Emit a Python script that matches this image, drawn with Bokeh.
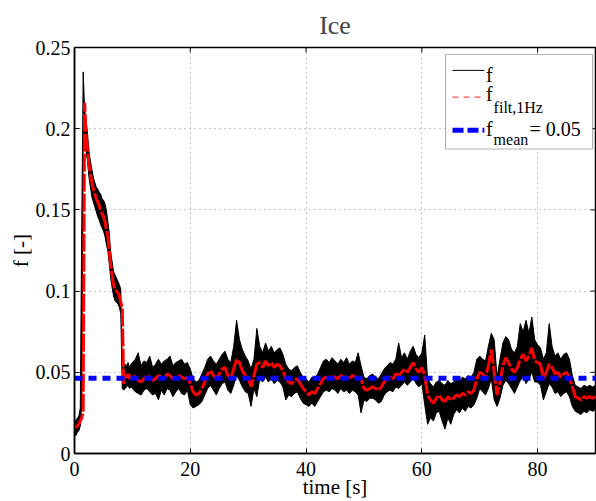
import numpy as np
from bokeh.plotting import figure
from bokeh.models import Range1d, FixedTicker, BoxAnnotation, Arrow, Label
from bokeh.embed import file_html
from bokeh.resources import INLINE

# ---------------- data ----------------
# time samples [s]: 0.25 s steps until 10 s, then 0.5 s steps until 90 s
t_early = np.arange(0, 10, 0.25)
t_late = np.arange(10, 90.001, 0.5)

# filtered signal f_filt,1Hz
filt_early = [.017, .016, .017, .018, .020, .022, .025, .216, .196, .188,
              .178, .172, .167, .163, .160, .157, .155, .153, .150, .148,
              .146, .143, .138, .134, .126, .116, .110, .104, .101, .100,
              .099, .097, .093, .090, .043, .048, .047, .049, .046, .048]
# raw signal f: upper / lower envelope of the noise band
f_hi_early = [.021, .020, .022, .023, .028, .140, .235, .212, .205, .197,
              .186, .180, .175, .170, .167, .164, .163, .161, .160, .157,
              .156, .154, .150, .143, .136, .124, .118, .112, .110, .108,
              .106, .104, .101, .052, .053, .055, .054, .056, .053, .055]
f_lo_early = [.012, .011, .013, .014, .017, .030, .190, .193, .186, .180,
              .170, .164, .158, .155, .152, .149, .146, .144, .141, .139,
              .137, .134, .129, .125, .117, .108, .102, .097, .094, .093,
              .092, .090, .086, .040, .039, .040, .041, .042, .040, .041]

filt_late = [
    .048, .047, .045, .044, .046, .048, .047, .045, .046, .048,
    .047, .046, .049, .048, .046, .047, .048, .047, .046, .047,
    .043, .038, .036, .037, .040, .044, .049, .051, .048, .046,
    .049, .052, .053, .048, .046, .052, .058, .056, .051, .048,
    .047, .041, .048, .055, .056, .053, .057, .054, .056, .053,
    .055, .054, .051, .046, .044, .043, .045, .046, .043, .040,
    .038, .036, .038, .037, .040, .043, .046, .047, .046, .048,
    .047, .046, .048, .047, .047, .046, .048, .047, .047, .046,
    .040, .039, .040, .041, .040, .039, .041, .044, .046, .047,
    .046, .049, .048, .050, .052, .050, .053, .056, .052, .050,
    .053, .048, .036, .033, .031, .034, .036, .033, .032, .035,
    .033, .034, .036, .035, .037, .036, .038, .037, .039, .046,
    .050, .049, .047, .054, .064, .050, .036, .044, .054, .059,
    .056, .052, .050, .053, .058, .061, .057, .060, .065, .057,
    .056, .055, .046, .050, .055, .053, .049, .050, .047, .049,
    .050, .047, .041, .035, .034, .033, .035, .034, .035, .034,
    .035]
f_hi_late = [
    .056, .058, .062, .054, .057, .056, .060, .053, .055, .058,
    .055, .057, .058, .060, .054, .056, .057, .058, .055, .056,
    .052, .046, .044, .045, .049, .053, .058, .060, .057, .055,
    .058, .061, .063, .058, .056, .066, .082, .070, .064, .060,
    .057, .052, .058, .077, .066, .062, .068, .063, .066, .062,
    .064, .065, .061, .055, .052, .051, .053, .054, .050, .047,
    .046, .044, .047, .046, .049, .053, .057, .058, .056, .059,
    .057, .055, .058, .056, .059, .055, .057, .056, .062, .054,
    .047, .046, .048, .049, .047, .046, .049, .052, .054, .056,
    .055, .058, .068, .059, .062, .058, .063, .066, .061, .059,
    .062, .073, .046, .043, .041, .044, .045, .043, .042, .045,
    .043, .044, .046, .045, .047, .046, .048, .047, .050, .058,
    .060, .058, .057, .066, .074, .070, .047, .058, .068, .072,
    .070, .064, .062, .066, .080, .075, .082, .074, .084, .070,
    .067, .065, .058, .062, .080, .066, .060, .062, .058, .061,
    .062, .058, .048, .042, .041, .040, .042, .041, .042, .041,
    .042]
f_lo_late = [
    .040, .038, .037, .036, .039, .040, .038, .036, .037, .033,
    .039, .036, .040, .039, .035, .038, .040, .037, .036, .039,
    .030, .028, .029, .030, .032, .036, .040, .042, .039, .036,
    .040, .043, .044, .039, .037, .042, .048, .045, .041, .038,
    .037, .029, .040, .035, .046, .044, .047, .044, .046, .043,
    .045, .044, .041, .033, .036, .035, .037, .038, .034, .031,
    .030, .029, .031, .029, .032, .035, .038, .039, .038, .040,
    .039, .037, .040, .038, .039, .037, .039, .038, .036, .025,
    .033, .032, .034, .034, .033, .031, .032, .036, .038, .039,
    .038, .041, .040, .042, .044, .042, .044, .047, .043, .041,
    .043, .030, .018, .022, .020, .025, .026, .020, .015, .022,
    .018, .024, .027, .025, .028, .026, .029, .028, .030, .034,
    .040, .038, .036, .040, .046, .033, .029, .034, .042, .045,
    .043, .040, .037, .041, .045, .047, .043, .046, .050, .044,
    .044, .042, .033, .038, .043, .041, .037, .038, .035, .037,
    .038, .035, .029, .026, .025, .024, .026, .025, .027, .026,
    .027]

f_mean = 0.0464
mean_label = "= 0.05"

x_ticks = [0, 20, 40, 60, 80]
x_tick_labels = ["0", "20", "40", "60", "80"]
y_ticks = [0, 0.05, 0.1, 0.15, 0.2, 0.25]
y_tick_labels = ["0", "0.05", "0.1", "0.15", "0.2", "0.25"]

t = np.concatenate([t_early, t_late])
f_filt = np.array(filt_early + filt_late)
f_hi = np.array(f_hi_early + f_hi_late)
f_lo = np.array(f_lo_early + f_lo_late)

SERIF = "Liberation Serif"
X0, X1, Y0, Y1 = 0, 90, 0, 0.25

# ---------------- figure ----------------
p = figure(width=596, height=501, x_range=Range1d(X0, X1), y_range=Range1d(Y0, Y1),
           output_backend="svg", toolbar_location=None,
           min_border_left=74, min_border_right=1, min_border_top=46, min_border_bottom=47)
p.background_fill_color = "white"
p.border_fill_color = "white"
p.outline_line_color = "black"
p.outline_line_width = 1.5

p.title.text = "Ice"
p.title.align = "center"
p.title.text_font = SERIF
p.title.text_font_size = "26px"
p.title.text_font_style = "normal"
p.title.standoff = 16

# data marks
p.varea(x=t, y1=f_lo, y2=f_hi, fill_color="black")
p.line(t, f_hi, line_color="black", line_width=1)
p.line(t, f_lo, line_color="black", line_width=1)
p.line(t, f_filt, line_color="#ff0000", line_width=3, line_dash="18 2")
p.line([t[0], t[-1]], [f_mean, f_mean], line_color="#0000ff", line_width=5, line_dash="8 6")

# axes
for ax in (p.xaxis[0], p.yaxis[0]):
    ax.major_tick_in = 5
    ax.major_tick_out = 0
    ax.minor_tick_line_color = None
    ax.axis_line_color = "black"
    ax.axis_line_width = 1.5
    ax.major_tick_line_color = "black"
    ax.major_label_text_font = SERIF
    ax.major_label_text_color = "black"
    ax.major_label_text_font_size = "20px"
    ax.major_label_standoff = 4
    ax.axis_label_text_font = SERIF
    ax.axis_label_text_font_size = "21px"
    ax.axis_label_text_font_style = "normal"
    ax.axis_label_text_color = "black"
    ax.axis_label_standoff = 0
p.xaxis.major_label_standoff = 8
p.xaxis.axis_label_standoff = -4

p.xaxis.ticker = FixedTicker(ticks=x_ticks)
p.xaxis.major_label_overrides = {v: s for v, s in zip(x_ticks, x_tick_labels)}
p.yaxis.ticker = FixedTicker(ticks=y_ticks)
p.yaxis.major_label_overrides = {v: s for v, s in zip(y_ticks, y_tick_labels)}
p.xaxis.axis_label = "time [s]"
p.yaxis.axis_label = "f [-]"

# inward ticks on the top and right frame edges (5 px long)
tick_dy = 5 / 408 * (Y1 - Y0)
tick_dx = 5 / 521 * (X1 - X0)
p.segment(x0=x_ticks, y0=[Y1] * len(x_ticks), x1=x_ticks, y1=[Y1 - tick_dy] * len(x_ticks),
          line_color="black", line_width=1)
p.segment(x0=[X1] * len(y_ticks), y0=y_ticks, x1=[X1 - tick_dx] * len(y_ticks), y1=y_ticks,
          line_color="black", line_width=1)

p.xgrid.ticker = FixedTicker(ticks=x_ticks)
p.ygrid.ticker = FixedTicker(ticks=y_ticks)
p.grid.grid_line_color = "#8c8c8c"
p.grid.grid_line_dash = "1 4"
p.grid.grid_line_width = 1

# legend (drawn manually to allow subscripts)
p.add_layout(BoxAnnotation(left=64.1, right=89.5, top=0.2457, bottom=0.1875,
                           fill_color="white", fill_alpha=1, line_color="black", line_width=1.2))
p.add_layout(Arrow(x_start=65.3, y_start=0.2359, x_end=70.8, y_end=0.2359, end=None,
                   line_color="black", line_width=1))
p.add_layout(Arrow(x_start=65.3, y_start=0.2194, x_end=70.8, y_end=0.2194, end=None,
                   line_color="#ff5050", line_width=1.2, line_dash="6 5"))
p.add_layout(Arrow(x_start=65.3, y_start=0.1991, x_end=70.8, y_end=0.1991, end=None,
                   line_color="#0000ff", line_width=5, line_dash="11 4"))

def lab(x, y, text, size):
    p.add_layout(Label(x=x, y=y, text=text, text_font=SERIF, text_font_size=size,
                       text_color="black", text_baseline="alphabetic", text_align="left"))

lab(71.1, 0.2328, "f", "20px")
lab(71.1, 0.2212, "f", "20px")
lab(72.4, 0.2132, "filt,1Hz", "16px")
lab(71.1, 0.1998, "f", "20px")
lab(72.4, 0.1936, "mean", "16px")
lab(78.6, 0.1998, mean_label, "20px")

open("out.html", "w").write(file_html(p, INLINE))
